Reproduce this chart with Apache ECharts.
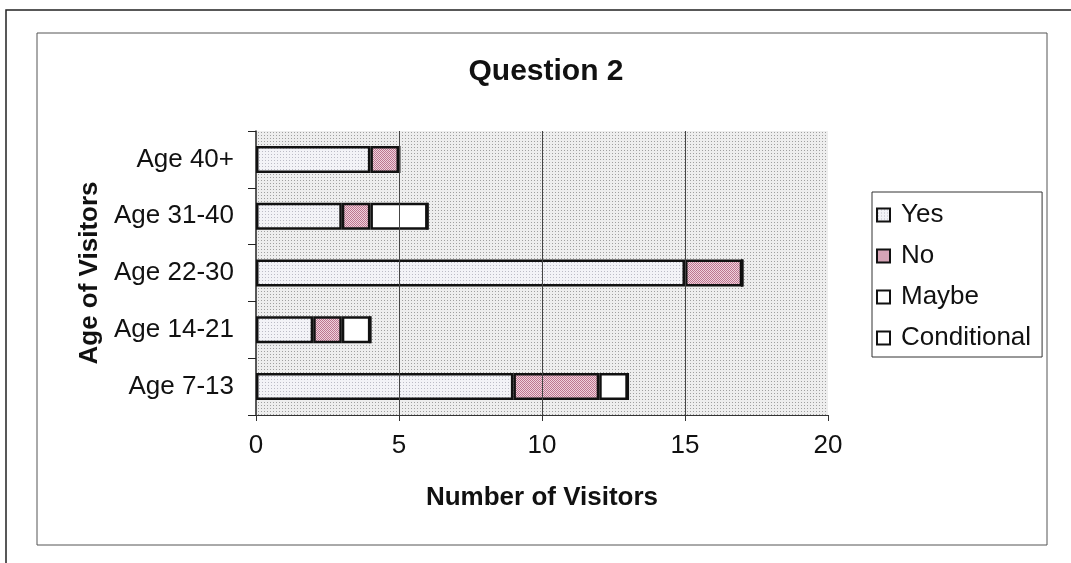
<!DOCTYPE html>
<html>
<head>
<meta charset="utf-8">
<script src="https://cdn.jsdelivr.net/npm/echarts@6/dist/echarts.min.js"></script>
<style>
  html, body { margin: 0; padding: 0; background: #ffffff; }
  #chart { width: 1071px; height: 563px; }
</style>
</head>
<body>
<div id="chart"></div>
<script>
// Visitor answers to question 2, by age group (bottom to top)
const ageGroups = ['Age 7-13', 'Age 14-21', 'Age 22-30', 'Age 31-40', 'Age 40+'];
const yesCounts = [9, 2, 15, 3, 4];
const noCounts = [3, 1, 2, 1, 1];
const maybeCounts = [1, 1, 0, 2, 0];
const conditionalCounts = [0, 0, 0, 0, 0];
const xTicks = [0, 5, 10, 15, 20];
const gridValues = [5, 10, 15];

// Small repeating dot textures for the fills
function makePattern(size, base, dots) {
  const c = document.createElement('canvas');
  c.width = size; c.height = size;
  const g = c.getContext('2d');
  g.fillStyle = base;
  g.fillRect(0, 0, size, size);
  dots.forEach(d => { g.fillStyle = d[2]; g.fillRect(d[0], d[1], 1, 1); });
  return { image: c, repeat: 'repeat' };
}
const plotFill = makePattern(3, '#eeeeee', [[0, 0, '#a0a0a0']]);
const yesFill = makePattern(3, '#f3f3f7', [[1, 1, '#bcbcc6']]);
const noFill = makePattern(2, '#efd2dc', [[0, 0, '#bd7690'], [1, 1, '#bd7690']]);

const barBase = {
  type: 'bar',
  stack: 'total',
  barWidth: 27,
  itemStyle: { borderColor: '#111', borderWidth: 2.5 }
};

const chart = echarts.init(document.getElementById('chart'));
chart.setOption({
  animation: false,
  textStyle: { fontFamily: 'Liberation Sans, Arial, sans-serif' },
  title: {
    text: 'Question 2',
    left: 541,
    top: 52,
    textAlign: 'center',
    textStyle: { fontSize: 30, fontWeight: 'bold', color: '#111' }
  },
  legend: {
    orient: 'vertical',
    left: 872,
    top: 192,
    padding: [10, 11, 6, 4],
    itemGap: 15,
    itemWidth: 13,
    itemHeight: 13,
    icon: 'rect',
    borderColor: '#333',
    borderWidth: 1,
    textStyle: { fontSize: 26, color: '#111', padding: [0, 0, 0, 6] },
    data: ['Yes', 'No', 'Maybe', 'Conditional']
  },
  grid: {
    left: 256, right: 243, top: 131, bottom: 148,
    show: true,
    backgroundColor: plotFill,
    borderWidth: 0
  },
  xAxis: {
    type: 'value',
    min: xTicks[0],
    max: xTicks[xTicks.length - 1],
    interval: 5,
    name: 'Number of Visitors',
    nameLocation: 'middle',
    nameGap: 70,
    nameTextStyle: { fontSize: 26, fontWeight: 'bold', color: '#111' },
    axisLine: { show: true, lineStyle: { color: '#333', width: 1 } },
    axisTick: { show: true, length: 6, lineStyle: { color: '#333' } },
    axisLabel: { fontSize: 26, color: '#111', margin: 18 },
    splitLine: { show: false }
  },
  yAxis: {
    type: 'category',
    data: ageGroups,
    name: 'Age of Visitors',
    nameLocation: 'middle',
    nameGap: 152,
    nameTextStyle: { fontSize: 26, fontWeight: 'bold', color: '#111' },
    axisLine: { show: true, lineStyle: { color: '#222', width: 1.5 } },
    axisTick: { show: true, length: 8, lineStyle: { color: '#222' } },
    axisLabel: { fontSize: 26, color: '#111', margin: 22 }
  },
  graphic: [
    { type: 'polyline', shape: { points: [[6, 563], [6, 10], [1071, 10]] },
      style: { stroke: '#222', lineWidth: 1.5, fill: null } },
    { type: 'rect', shape: { x: 37, y: 33, width: 1010, height: 512 },
      style: { stroke: '#555', lineWidth: 1, fill: null }, z: -1 }
  ],
  series: [
    Object.assign({}, barBase, {
      name: 'Yes', data: yesCounts,
      itemStyle: { color: yesFill, borderColor: '#111', borderWidth: 2.5 },
      markLine: {
        silent: true, symbol: 'none', label: { show: false },
        lineStyle: { color: '#444', width: 1, type: 'solid' },
        data: gridValues.map(v => ({ xAxis: v }))
      },
      z: 1
    }),
    Object.assign({}, barBase, {
      name: 'No', data: noCounts,
      itemStyle: { color: noFill, borderColor: '#111', borderWidth: 2.5 }, z: 2
    }),
    Object.assign({}, barBase, {
      name: 'Maybe', data: maybeCounts,
      itemStyle: { color: '#ffffff', borderColor: '#111', borderWidth: 2.5 }, z: 2
    }),
    Object.assign({}, barBase, {
      name: 'Conditional', data: conditionalCounts,
      itemStyle: { color: '#ffffff', borderColor: '#111', borderWidth: 2.5 }, z: 2
    })
  ]
});
</script>
</body>
</html>
